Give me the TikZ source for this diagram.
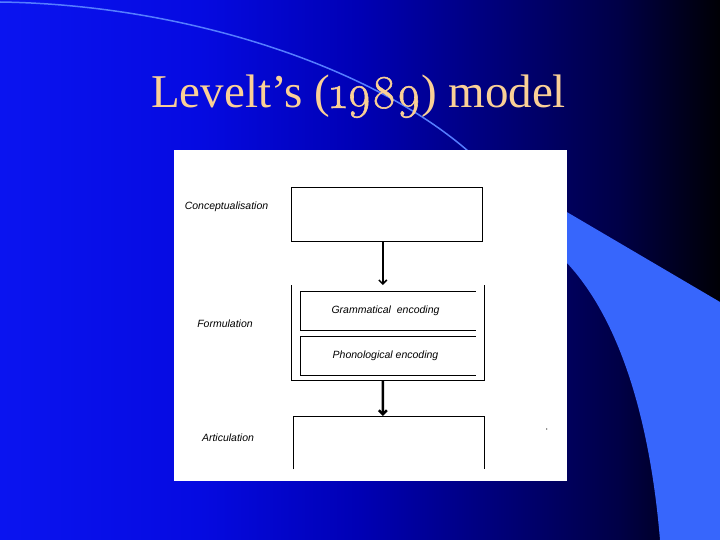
\documentclass[tikz,border=0pt]{standalone}
\usepackage{fontspec}
\setmainfont{Liberation Serif}
\newfontfamily\lblfont{Liberation Sans}
\newfontfamily\oldfigs[Numbers=OldStyle,FakeBold=1.2]{Latin Modern Roman}
\usetikzlibrary{arrows.meta,positioning}
\definecolor{peach}{RGB}{250,208,150}
\definecolor{crescent}{RGB}{55,102,252}
\definecolor{thinarc}{RGB}{85,125,255}
\pgfdeclarehorizontalshading{slidebg}{100bp}{color(0bp)=(rgb,255:red,10;green,20;blue,240); color(25bp)=(rgb,255:red,10;green,20;blue,240); color(38.9bp)=(rgb,255:red,5;green,10;blue,225); color(50bp)=(rgb,255:red,0;green,0;blue,180); color(59.7bp)=(rgb,255:red,0;green,0;blue,120); color(68bp)=(rgb,255:red,0;green,0;blue,70); color(75bp)=(rgb,255:red,0;green,0;blue,5); color(100bp)=(rgb,255:red,0;green,0;blue,5)}

\begin{document}
\begin{tikzpicture}[x=1bp, y=-1bp,
  box/.style={inner sep=0pt, outer sep=0pt, line width=0.9bp},
  lbl/.style={font=\lblfont\itshape\fontsize{10.5bp}{12bp}\selectfont, inner sep=0pt},
  flow/.style={line width=1.5bp, -{Straight Barb[length=4bp,width=8bp]}}]
\useasboundingbox (0,0) rectangle (720,540);
\shade[shading=slidebg] (0,0) rectangle (720,540);
\draw[thinarc, line width=1.5bp] (0,2) .. controls (200,5) and (390,75) .. (480,162);
\fill[crescent] (480,161) -- (720,302) -- (720,540) -- (660,540) .. controls (650,420) and (620,320) .. (567,263) -- (480,190) -- cycle;

\node[font=\fontsize{47bp}{50bp}\selectfont, text=peach, anchor=base, inner sep=0pt] (title) at (358.5,108) {Levelt’s ({\oldfigs 1989}) model};

\fill[white] (174,150) rectangle (567,481);

\node[box, draw, minimum width=191bp, minimum height=53.7bp] (concept) at (386.8,214.2) {};
\node[box, minimum width=193bp, minimum height=95.7bp] (form) at (387.8,332.9) {};
\node[box, minimum width=175.4bp, minimum height=38.6bp] (gram) at (388,311) {};
\node[box, minimum width=175.4bp, minimum height=39bp] (phon) at (388,355.8) {};
\node[box, minimum width=191bp, minimum height=53.3bp] (artic) at (388.8,442.7) {};

\draw[line width=0.9bp] (form.north west) -- (form.south west) -- (form.south east) -- (form.north east);
\draw[line width=0.9bp] (gram.north east) -- (gram.north west) -- (gram.south west) -- (gram.south east);
\draw[line width=0.9bp] (phon.north east) -- (phon.north west) -- (phon.south west) -- (phon.south east);
\draw[line width=0.9bp] (artic.south west) -- (artic.north west) -- (artic.north east) -- (artic.south east);

\node[lbl] (gramtxt) at (385.5,310.7) {Grammatical\ \ encoding};
\node[lbl] (phontxt) at (385.5,355.7) {Phonological encoding};

\node[lbl] (conceptlbl) at (226.5,206.7) {Conceptualisation};
\node[lbl] (formlbl) at (225,324) {Formulation};
\node[lbl] (articlbl) at (228,437.3) {Articulation};

\draw[flow] ([xshift=-4bp]concept.south) -- ([xshift=-5bp]form.north);
\draw[flow, line width=2.5bp] ([xshift=-5bp]form.south) -- ([xshift=-6bp]artic.north);

\fill (546.7,429) circle (0.6bp);
\end{tikzpicture}
\end{document}
